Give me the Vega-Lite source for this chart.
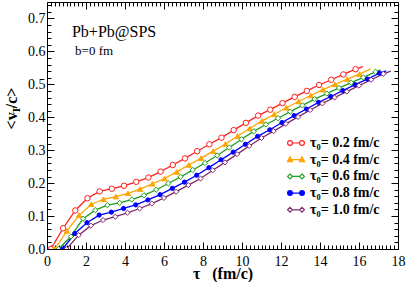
{
  "$schema": "https://vega.github.io/schema/vega-lite/v6.json",
  "width": 351,
  "height": 247,
  "autosize": {"type": "none"},
  "padding": {"left": 47, "top": 2, "right": 11, "bottom": 33},
  "background": "white",
  "config": {
    "view": {"stroke": "black", "strokeWidth": 1},
    "font": "Liberation Serif"
  },
  "datasets": {
    "curves": [
      {"series": "0.2", "kind": "sample", "tau": 0.2, "v": 0.0},
      {"series": "0.2", "kind": "sample", "tau": 0.825, "v": 0.063},
      {"series": "0.2", "kind": "sample", "tau": 1.45, "v": 0.117},
      {"series": "0.2", "kind": "sample", "tau": 2.075, "v": 0.154},
      {"series": "0.2", "kind": "sample", "tau": 2.7, "v": 0.175},
      {"series": "0.2", "kind": "sample", "tau": 3.325, "v": 0.183},
      {"series": "0.2", "kind": "sample", "tau": 3.95, "v": 0.192},
      {"series": "0.2", "kind": "sample", "tau": 4.575, "v": 0.204},
      {"series": "0.2", "kind": "sample", "tau": 5.2, "v": 0.217},
      {"series": "0.2", "kind": "sample", "tau": 5.825, "v": 0.235},
      {"series": "0.2", "kind": "sample", "tau": 6.45, "v": 0.255},
      {"series": "0.2", "kind": "sample", "tau": 7.075, "v": 0.275},
      {"series": "0.2", "kind": "sample", "tau": 7.7, "v": 0.297},
      {"series": "0.2", "kind": "sample", "tau": 8.325, "v": 0.318},
      {"series": "0.2", "kind": "sample", "tau": 8.95, "v": 0.338},
      {"series": "0.2", "kind": "sample", "tau": 9.575, "v": 0.361},
      {"series": "0.2", "kind": "sample", "tau": 10.2, "v": 0.383},
      {"series": "0.2", "kind": "sample", "tau": 10.825, "v": 0.405},
      {"series": "0.2", "kind": "sample", "tau": 11.45, "v": 0.423},
      {"series": "0.2", "kind": "sample", "tau": 12.075, "v": 0.443},
      {"series": "0.2", "kind": "sample", "tau": 12.7, "v": 0.462},
      {"series": "0.2", "kind": "sample", "tau": 13.325, "v": 0.48},
      {"series": "0.2", "kind": "sample", "tau": 13.95, "v": 0.498},
      {"series": "0.2", "kind": "sample", "tau": 14.575, "v": 0.514},
      {"series": "0.2", "kind": "sample", "tau": 15.2, "v": 0.53},
      {"series": "0.2", "kind": "sample", "tau": 15.825, "v": 0.546},
      {"series": "0.2", "kind": "end", "tau": 16.2, "v": 0.554},

      {"series": "0.4", "kind": "sample", "tau": 0.4, "v": 0.0},
      {"series": "0.4", "kind": "sample", "tau": 1.025, "v": 0.055},
      {"series": "0.4", "kind": "sample", "tau": 1.65, "v": 0.103},
      {"series": "0.4", "kind": "sample", "tau": 2.275, "v": 0.136},
      {"series": "0.4", "kind": "sample", "tau": 2.9, "v": 0.151},
      {"series": "0.4", "kind": "sample", "tau": 3.525, "v": 0.159},
      {"series": "0.4", "kind": "sample", "tau": 4.15, "v": 0.169},
      {"series": "0.4", "kind": "sample", "tau": 4.775, "v": 0.182},
      {"series": "0.4", "kind": "sample", "tau": 5.4, "v": 0.198},
      {"series": "0.4", "kind": "sample", "tau": 6.025, "v": 0.214},
      {"series": "0.4", "kind": "sample", "tau": 6.65, "v": 0.234},
      {"series": "0.4", "kind": "sample", "tau": 7.275, "v": 0.255},
      {"series": "0.4", "kind": "sample", "tau": 7.9, "v": 0.276},
      {"series": "0.4", "kind": "sample", "tau": 8.525, "v": 0.297},
      {"series": "0.4", "kind": "sample", "tau": 9.15, "v": 0.319},
      {"series": "0.4", "kind": "sample", "tau": 9.775, "v": 0.343},
      {"series": "0.4", "kind": "sample", "tau": 10.4, "v": 0.366},
      {"series": "0.4", "kind": "sample", "tau": 11.025, "v": 0.389},
      {"series": "0.4", "kind": "sample", "tau": 11.65, "v": 0.409},
      {"series": "0.4", "kind": "sample", "tau": 12.275, "v": 0.429},
      {"series": "0.4", "kind": "sample", "tau": 12.9, "v": 0.448},
      {"series": "0.4", "kind": "sample", "tau": 13.525, "v": 0.466},
      {"series": "0.4", "kind": "sample", "tau": 14.15, "v": 0.484},
      {"series": "0.4", "kind": "sample", "tau": 14.775, "v": 0.5},
      {"series": "0.4", "kind": "sample", "tau": 15.4, "v": 0.516},
      {"series": "0.4", "kind": "sample", "tau": 16.025, "v": 0.531},
      {"series": "0.4", "kind": "end", "tau": 16.6, "v": 0.547},

      {"series": "0.6", "kind": "sample", "tau": 0.6, "v": 0.0},
      {"series": "0.6", "kind": "sample", "tau": 1.225, "v": 0.038},
      {"series": "0.6", "kind": "sample", "tau": 1.85, "v": 0.092},
      {"series": "0.6", "kind": "sample", "tau": 2.475, "v": 0.118},
      {"series": "0.6", "kind": "sample", "tau": 3.1, "v": 0.133},
      {"series": "0.6", "kind": "sample", "tau": 3.725, "v": 0.14},
      {"series": "0.6", "kind": "sample", "tau": 4.35, "v": 0.15},
      {"series": "0.6", "kind": "sample", "tau": 4.975, "v": 0.163},
      {"series": "0.6", "kind": "sample", "tau": 5.6, "v": 0.18},
      {"series": "0.6", "kind": "sample", "tau": 6.225, "v": 0.199},
      {"series": "0.6", "kind": "sample", "tau": 6.85, "v": 0.219},
      {"series": "0.6", "kind": "sample", "tau": 7.475, "v": 0.24},
      {"series": "0.6", "kind": "sample", "tau": 8.1, "v": 0.261},
      {"series": "0.6", "kind": "sample", "tau": 8.725, "v": 0.284},
      {"series": "0.6", "kind": "sample", "tau": 9.35, "v": 0.308},
      {"series": "0.6", "kind": "sample", "tau": 9.975, "v": 0.333},
      {"series": "0.6", "kind": "sample", "tau": 10.6, "v": 0.357},
      {"series": "0.6", "kind": "sample", "tau": 11.225, "v": 0.378},
      {"series": "0.6", "kind": "sample", "tau": 11.85, "v": 0.397},
      {"series": "0.6", "kind": "sample", "tau": 12.475, "v": 0.417},
      {"series": "0.6", "kind": "sample", "tau": 13.1, "v": 0.436},
      {"series": "0.6", "kind": "sample", "tau": 13.725, "v": 0.455},
      {"series": "0.6", "kind": "sample", "tau": 14.35, "v": 0.472},
      {"series": "0.6", "kind": "sample", "tau": 14.975, "v": 0.489},
      {"series": "0.6", "kind": "sample", "tau": 15.6, "v": 0.505},
      {"series": "0.6", "kind": "sample", "tau": 16.225, "v": 0.521},
      {"series": "0.6", "kind": "sample", "tau": 16.85, "v": 0.538},
      {"series": "0.6", "kind": "end", "tau": 17.1, "v": 0.544},

      {"series": "0.8", "kind": "sample", "tau": 0.8, "v": 0.0},
      {"series": "0.8", "kind": "sample", "tau": 1.425, "v": 0.047},
      {"series": "0.8", "kind": "sample", "tau": 2.05, "v": 0.08},
      {"series": "0.8", "kind": "sample", "tau": 2.675, "v": 0.103},
      {"series": "0.8", "kind": "sample", "tau": 3.3, "v": 0.112},
      {"series": "0.8", "kind": "sample", "tau": 3.925, "v": 0.123},
      {"series": "0.8", "kind": "sample", "tau": 4.55, "v": 0.134},
      {"series": "0.8", "kind": "sample", "tau": 5.175, "v": 0.149},
      {"series": "0.8", "kind": "sample", "tau": 5.8, "v": 0.165},
      {"series": "0.8", "kind": "sample", "tau": 6.425, "v": 0.184},
      {"series": "0.8", "kind": "sample", "tau": 7.05, "v": 0.203},
      {"series": "0.8", "kind": "sample", "tau": 7.675, "v": 0.224},
      {"series": "0.8", "kind": "sample", "tau": 8.3, "v": 0.247},
      {"series": "0.8", "kind": "sample", "tau": 8.925, "v": 0.271},
      {"series": "0.8", "kind": "sample", "tau": 9.55, "v": 0.294},
      {"series": "0.8", "kind": "sample", "tau": 10.175, "v": 0.318},
      {"series": "0.8", "kind": "sample", "tau": 10.8, "v": 0.342},
      {"series": "0.8", "kind": "sample", "tau": 11.425, "v": 0.362},
      {"series": "0.8", "kind": "sample", "tau": 12.05, "v": 0.384},
      {"series": "0.8", "kind": "sample", "tau": 12.675, "v": 0.405},
      {"series": "0.8", "kind": "sample", "tau": 13.3, "v": 0.425},
      {"series": "0.8", "kind": "sample", "tau": 13.925, "v": 0.445},
      {"series": "0.8", "kind": "sample", "tau": 14.55, "v": 0.463},
      {"series": "0.8", "kind": "sample", "tau": 15.175, "v": 0.481},
      {"series": "0.8", "kind": "sample", "tau": 15.8, "v": 0.499},
      {"series": "0.8", "kind": "sample", "tau": 16.425, "v": 0.516},
      {"series": "0.8", "kind": "sample", "tau": 17.05, "v": 0.534},
      {"series": "0.8", "kind": "end", "tau": 17.4, "v": 0.541},

      {"series": "1.0", "kind": "sample", "tau": 1.0, "v": 0.0},
      {"series": "1.0", "kind": "sample", "tau": 1.625, "v": 0.042},
      {"series": "1.0", "kind": "sample", "tau": 2.25, "v": 0.071},
      {"series": "1.0", "kind": "sample", "tau": 2.875, "v": 0.088},
      {"series": "1.0", "kind": "sample", "tau": 3.5, "v": 0.098},
      {"series": "1.0", "kind": "sample", "tau": 4.125, "v": 0.11},
      {"series": "1.0", "kind": "sample", "tau": 4.75, "v": 0.123},
      {"series": "1.0", "kind": "sample", "tau": 5.375, "v": 0.138},
      {"series": "1.0", "kind": "sample", "tau": 6.0, "v": 0.155},
      {"series": "1.0", "kind": "sample", "tau": 6.625, "v": 0.174},
      {"series": "1.0", "kind": "sample", "tau": 7.25, "v": 0.194},
      {"series": "1.0", "kind": "sample", "tau": 7.875, "v": 0.214},
      {"series": "1.0", "kind": "sample", "tau": 8.5, "v": 0.239},
      {"series": "1.0", "kind": "sample", "tau": 9.125, "v": 0.263},
      {"series": "1.0", "kind": "sample", "tau": 9.75, "v": 0.288},
      {"series": "1.0", "kind": "sample", "tau": 10.375, "v": 0.313},
      {"series": "1.0", "kind": "sample", "tau": 11.0, "v": 0.337},
      {"series": "1.0", "kind": "sample", "tau": 11.625, "v": 0.358},
      {"series": "1.0", "kind": "sample", "tau": 12.25, "v": 0.38},
      {"series": "1.0", "kind": "sample", "tau": 12.875, "v": 0.401},
      {"series": "1.0", "kind": "sample", "tau": 13.5, "v": 0.422},
      {"series": "1.0", "kind": "sample", "tau": 14.125, "v": 0.442},
      {"series": "1.0", "kind": "sample", "tau": 14.75, "v": 0.46},
      {"series": "1.0", "kind": "sample", "tau": 15.375, "v": 0.478},
      {"series": "1.0", "kind": "sample", "tau": 16.0, "v": 0.496},
      {"series": "1.0", "kind": "sample", "tau": 16.625, "v": 0.514},
      {"series": "1.0", "kind": "sample", "tau": 17.25, "v": 0.532},
      {"series": "1.0", "kind": "end", "tau": 17.63, "v": 0.54}
    ],
    "notes": [
      {"label": "Pb+Pb@SPS"}
    ],
    "notes2": [
      {"label": "b=0 fm"}
    ]
  },
  "resolve": {"axis": {"x": "independent", "y": "independent"}},
  "layer": [
    {
      "data": {"name": "curves"},
      "mark": {"type": "line", "strokeWidth": 1.3, "clip": true},
      "encoding": {
        "x": {
          "field": "tau", "type": "quantitative",
          "scale": {"domain": [0, 18], "nice": false, "zero": false},
          "axis": {
            "orient": "bottom",
            "values": [0,0.2,0.4,0.6,0.8,1,1.2,1.4,1.6,1.8,2,2.2,2.4,2.6,2.8,3,3.2,3.4,3.6,3.8,4,4.2,4.4,4.6,4.8,5,5.2,5.4,5.6,5.8,6,6.2,6.4,6.6,6.8,7,7.2,7.4,7.6,7.8,8,8.2,8.4,8.6,8.8,9,9.2,9.4,9.6,9.8,10,10.2,10.4,10.6,10.8,11,11.2,11.4,11.6,11.8,12,12.2,12.4,12.6,12.8,13,13.2,13.4,13.6,13.8,14,14.2,14.4,14.6,14.8,15,15.2,15.4,15.6,15.8,16,16.2,16.4,16.6,16.8,17,17.2,17.4,17.6,17.8,18],
            "labelExpr": "round(datum.value*5) % 10 == 0 ? format(datum.value, 'd') : ''",
            "tickSize": {"condition": {"test": "round(datum.value*5) % 10 == 0", "value": -7}, "value": -4},
            "tickColor": "black",
            "tickWidth": 1,
            "domain": false,
            "grid": false,
            "labelOverlap": false,
            "labelFlush": false,
            "labelFont": "Liberation Serif",
            "labelFontSize": 14,
            "labelColor": "black",
            "labelPadding": 12,
            "title": "τ\u00a0\u00a0\u00a0(fm/c)",
            "titleFont": "Liberation Serif",
            "titleFontSize": 16,
            "titleFontWeight": "bold",
            "titleColor": "black",
            "titleBaseline": "alphabetic",
            "titleY": 29
          }
        },
        "y": {
          "field": "v", "type": "quantitative",
          "scale": {"domain": [0, 0.75], "nice": false, "zero": false},
          "axis": {
            "orient": "left",
            "values": [0,0.02,0.04,0.06,0.08,0.1,0.12,0.14,0.16,0.18,0.2,0.22,0.24,0.26,0.28,0.3,0.32,0.34,0.36,0.38,0.4,0.42,0.44,0.46,0.48,0.5,0.52,0.54,0.56,0.58,0.6,0.62,0.64,0.66,0.68,0.7,0.72,0.74],
            "labelExpr": "round(datum.value*50) % 5 == 0 ? format(datum.value, '.1f') : ''",
            "tickSize": {"condition": {"test": "round(datum.value*50) % 5 == 0", "value": -7}, "value": -4},
            "tickColor": "black",
            "tickWidth": 1,
            "domain": false,
            "grid": false,
            "labelOverlap": false,
            "labelFlush": false,
            "labelFont": "Liberation Serif",
            "labelFontSize": 14,
            "labelColor": "black",
            "labelPadding": 9,
            "title": "<v  /c>",
            "titleFont": "Liberation Serif",
            "titleFontSize": 16,
            "titleFontWeight": "bold",
            "titleColor": "black",
            "titleBaseline": "middle",
            "titleX": -36,
            "titleY": 106
          }
        },
        "color": {
          "field": "series", "type": "nominal",
          "scale": {"range": ["#ff1f1f", "#ffa500", "#1f9e1f", "#0000ff", "#7e2a6c"]},
          "legend": {
            "orient": "none",
            "legendX": 240,
            "legendY": 133,
            "title": null,
            "labelExpr": "'τ₀= ' + datum.label + ' fm/c'",
            "labelFont": "Liberation Serif",
            "labelFontSize": 14,
            "labelFontWeight": "bold",
            "labelColor": "black",
            "symbolSize": 256,
            "symbolStrokeWidth": 1.2,
            "clipHeight": 16,
            "rowPadding": 0.7,
            "labelOffset": 5,
            "encode": {
              "symbols": {
                "update": {
                  "size": {"value": 256},
                  "opacity": {"value": 1},
                  "strokeWidth": {"value": 1.2},
                  "stroke": {"signal": "datum.value == '0.2' ? '#ff1f1f' : datum.value == '0.4' ? '#ffa500' : datum.value == '0.6' ? '#1f9e1f' : datum.value == '0.8' ? '#0000ff' : '#7e2a6c'"},
                  "fill": {"signal": "datum.value == '0.4' ? '#ffa500' : datum.value == '0.8' ? '#0000ff' : 'white'"},
                  "shape": {"signal": "datum.value == '0.4' ? 'M-0.75,-0.36L-0.42,0.24L-1.08,0.24Z M0.75,-0.36L1.08,0.24L0.42,0.24Z M-0.75,0L0.75,0' : (datum.value == '0.6' || datum.value == '1.0') ? 'M-0.75,-0.3L-0.45,0L-0.75,0.3L-1.05,0Z M0.75,-0.3L1.05,0L0.75,0.3L0.45,0Z M-0.45,0L0.45,0' : 'M-1.05,0A0.3,0.3 0 1,0 -0.45,0A0.3,0.3 0 1,0 -1.05,0Z M0.45,0A0.3,0.3 0 1,0 1.05,0A0.3,0.3 0 1,0 0.45,0Z M-0.45,0L0.45,0'"}
                }
              }
            }
          }
        },
        "detail": {"field": "series"}
      }
    },
    {
      "data": {"name": "curves"},
      "transform": [{"filter": "datum.kind == 'sample' && datum.series == '0.2'"}],
      "mark": {"type": "point", "shape": "circle", "filled": true, "fill": "white", "stroke": "#ff1f1f", "strokeWidth": 1, "size": 30, "opacity": 1, "clip": true},
      "encoding": {
        "x": {
          "field": "tau", "type": "quantitative",
          "axis": {
            "orient": "top",
            "values": [0,0.2,0.4,0.6,0.8,1,1.2,1.4,1.6,1.8,2,2.2,2.4,2.6,2.8,3,3.2,3.4,3.6,3.8,4,4.2,4.4,4.6,4.8,5,5.2,5.4,5.6,5.8,6,6.2,6.4,6.6,6.8,7,7.2,7.4,7.6,7.8,8,8.2,8.4,8.6,8.8,9,9.2,9.4,9.6,9.8,10,10.2,10.4,10.6,10.8,11,11.2,11.4,11.6,11.8,12,12.2,12.4,12.6,12.8,13,13.2,13.4,13.6,13.8,14,14.2,14.4,14.6,14.8,15,15.2,15.4,15.6,15.8,16,16.2,16.4,16.6,16.8,17,17.2,17.4,17.6,17.8,18],
            "tickSize": {"condition": {"test": "round(datum.value*5) % 10 == 0", "value": -7}, "value": -4},
            "tickColor": "black",
            "labels": false,
            "domain": false,
            "grid": false,
            "title": null
          }
        },
        "y": {
          "field": "v", "type": "quantitative",
          "axis": {
            "orient": "right",
            "values": [0,0.02,0.04,0.06,0.08,0.1,0.12,0.14,0.16,0.18,0.2,0.22,0.24,0.26,0.28,0.3,0.32,0.34,0.36,0.38,0.4,0.42,0.44,0.46,0.48,0.5,0.52,0.54,0.56,0.58,0.6,0.62,0.64,0.66,0.68,0.7,0.72,0.74],
            "tickSize": {"condition": {"test": "round(datum.value*50) % 5 == 0", "value": -7}, "value": -4},
            "tickColor": "black",
            "labels": false,
            "domain": false,
            "grid": false,
            "title": null
          }
        }
      }
    },
    {
      "data": {"name": "curves"},
      "transform": [{"filter": "datum.kind == 'sample' && datum.series == '0.4'"}],
      "mark": {"type": "point", "shape": "triangle-up", "filled": true, "fill": "#ffa500", "stroke": "#ffa500", "strokeWidth": 1, "size": 28, "opacity": 1, "clip": true},
      "encoding": {
        "x": {"field": "tau", "type": "quantitative", "axis": null},
        "y": {"field": "v", "type": "quantitative", "axis": null}
      }
    },
    {
      "data": {"name": "curves"},
      "transform": [{"filter": "datum.kind == 'sample' && datum.series == '0.6'"}],
      "mark": {"type": "point", "shape": "diamond", "filled": true, "fill": "white", "stroke": "#1f9e1f", "strokeWidth": 1, "size": 28, "opacity": 1, "clip": true},
      "encoding": {
        "x": {"field": "tau", "type": "quantitative", "axis": null},
        "y": {"field": "v", "type": "quantitative", "axis": null}
      }
    },
    {
      "data": {"name": "curves"},
      "transform": [{"filter": "datum.kind == 'sample' && datum.series == '0.8'"}],
      "mark": {"type": "point", "shape": "circle", "filled": true, "fill": "#0000ff", "stroke": "#0000ff", "strokeWidth": 1, "size": 18, "opacity": 1, "clip": true},
      "encoding": {
        "x": {"field": "tau", "type": "quantitative", "axis": null},
        "y": {"field": "v", "type": "quantitative", "axis": null}
      }
    },
    {
      "data": {"name": "curves"},
      "transform": [{"filter": "datum.kind == 'sample' && datum.series == '1.0'"}],
      "mark": {"type": "point", "shape": "diamond", "filled": true, "fill": "white", "stroke": "#7e2a6c", "strokeWidth": 1, "size": 26, "opacity": 1, "clip": true},
      "encoding": {
        "x": {"field": "tau", "type": "quantitative", "axis": null},
        "y": {"field": "v", "type": "quantitative", "axis": null}
      }
    },
    {
      "data": {"name": "notes"},
      "mark": {"type": "text", "align": "left", "baseline": "alphabetic", "font": "Liberation Serif", "fontSize": 16, "color": "black"},
      "encoding": {
        "x": {"datum": 1.28, "type": "quantitative", "axis": null},
        "y": {
          "datum": 0.645, "type": "quantitative",
          "axis": {
            "orient": "left",
            "ticks": false,
            "labels": false,
            "domain": false,
            "grid": false,
            "title": "T",
            "titleFont": "Liberation Serif",
            "titleFontSize": 11,
            "titleFontWeight": "bold",
            "titleColor": "black",
            "titleBaseline": "middle",
            "titleX": -31,
            "titleY": 107.5
          }
        },
        "text": {"field": "label"}
      }
    },
    {
      "data": {"name": "notes2"},
      "mark": {"type": "text", "align": "left", "baseline": "alphabetic", "font": "Liberation Serif", "fontSize": 13, "color": "black"},
      "encoding": {
        "x": {"datum": 1.44, "type": "quantitative", "axis": null},
        "y": {"datum": 0.588, "type": "quantitative", "axis": null},
        "text": {"field": "label"}
      }
    }
  ]
}
